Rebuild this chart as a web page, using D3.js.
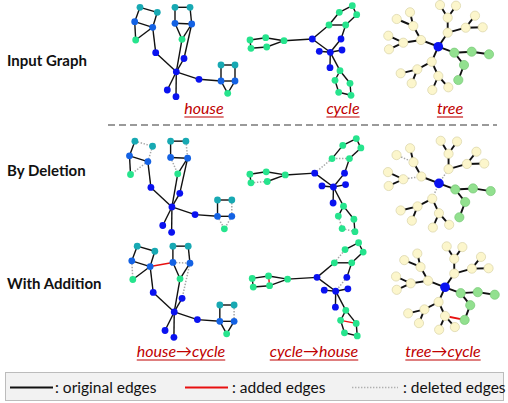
<!DOCTYPE html>
<html><head><meta charset="utf-8">
<script src="https://cdn.jsdelivr.net/npm/d3@7"></script>
<style>
html,body{margin:0;padding:0;background:#fff;}
svg{display:block;font-family:Lato,"Open Sans",sans-serif;}
</style></head><body>
<svg id="chart" width="508" height="403"></svg>
<script>
// ---------- house-motif graph ----------
const houseIds  = ["A","B","C","D","E","F","G","H","I","J","K","L","M","N","O","P","Q","R","S","T","U"];
const houseX    = [10,27.3,4.7,22.7,5.7,25.7,45,60,45,61.7,52,54,46.3,69,37.3,46,91,105,91,105,97.7];
const houseY    = [7.3,12.3,21.7,27.3,40,52.7,7.3,7.3,23.3,24,39.3,58.5,71.8,79.3,90,96.7,65,65,81,81,93.3];
const houseKind = ["teal","teal","blue","blue","green","deep","teal","teal","blue","blue","green","deep","deep","deep","deep","deep","teal","teal","blue","blue","green"];
const houseEdges = [["A","B"],["A","C"],["B","D"],["C","D"],["C","E"],["D","E"],["D","F"],["F","M"],
  ["G","H"],["G","I"],["H","J"],["I","J"],["I","K"],["J","K"],["J","L"],["K","M"],["L","M"],
  ["M","N"],["M","O"],["M","P"],["N","S"],["Q","R"],["Q","S"],["R","T"],["S","T"],["S","U"],["T","U"]];
const houseDeleted  = [["A","B"],["B","D"],["D","E"],["H","J"],["I","K"],["R","T"],["S","U"],["T","U"]];
const houseToCycleDeleted = [["C","E"],["I","J"],["J","L"],["R","T"]];
const houseToCycleAdded   = [["D","I"]];

// ---------- cycle-motif graph ----------
const cycleIds  = ["c1","c2","c3","c4","c5","h","u1","u2","u3","u4","u5","b1","ctr","bL","bR","bD","l1","l2","l3","l4","l5"];
const cycleX    = [10,25.7,44,11,26.7,72.3,89,99.3,112.3,116.7,105.7,101,90.3,79.3,102,90,100,95,98.7,111,110];
const cycleY    = [40,37.7,40.7,48.3,47,39,25,12.3,5.7,14.7,25,39,52.3,51.3,50,67.7,70.7,80.3,92.3,95.3,83.3];
const cycleKind = ["green","green","green","green","green","deep","green","green","green","green","green","deep","deep","deep","deep","deep","green","green","green","green","green"];
const cycleEdges = [["c1","c2"],["c2","c3"],["c3","c5"],["c5","c4"],["c4","c1"],["c3","h"],
  ["h","u1"],["u1","u2"],["u2","u3"],["u3","u4"],["u4","u5"],["u5","u1"],["u5","b1"],["b1","ctr"],["h","ctr"],
  ["ctr","bL"],["ctr","bR"],["ctr","bD"],["ctr","l1"],["l1","l2"],["l2","l3"],["l3","l4"],["l4","l5"],["l5","l1"]];
const cycleDeleted = [["c4","c5"],["h","u1"],["u1","u5"],["l2","l3"],["l3","l4"]];
const cycleToHouseDeleted = [["u1","u2"],["b1","ctr"]];
const cycleToHouseAdded   = [["c2","c5"],["l2","l5"]];

// ---------- tree-motif graph ----------
const treeIds  = ["t0","n1","n2","n3","n4","n5","n6","n7","m1","m2","m3","m4","m5","m6","m7","k1","k2","k3","k4","k5","k6","k7","g1","g2","g3","g4","g5"];
const treeX    = [68.3,51,43.3,40,26.7,33.3,18.3,19,77.7,77.7,70,86,95.7,105,112.7,61.7,47.3,30.7,41.7,68.3,62.3,78.3,84.3,101.7,119,94,88.3];
const treeY    = [46.7,40,26,12.3,19,42.7,35.7,49.3,32.7,17.7,5,5.7,27.7,15.7,27.3,61.7,69.3,73.3,83.3,76,90,87.3,52.7,51.7,54.3,65,80];
const treeKind = ["deep","cream","cream","cream","cream","cream","cream","cream","cream","cream","cream","cream","cream","cream","cream","cream","cream","cream","cream","cream","cream","cream","lime","lime","lime","lime","lime"];
const treeEdges = [["t0","n1"],["n1","n2"],["n2","n3"],["n2","n4"],["n1","n5"],["n5","n6"],["n5","n7"],
  ["t0","m1"],["m1","m2"],["m2","m3"],["m2","m4"],["m1","m5"],["m5","m6"],["m5","m7"],
  ["t0","k1"],["k1","k2"],["k2","k3"],["k2","k4"],["k1","k5"],["k5","k6"],["k5","k7"],
  ["t0","g1"],["g1","g2"],["g2","g3"],["g1","g4"],["g4","g5"]];
const treeDeleted = [["n1","n5"],["n2","n4"],["t0","m1"],["t0","k1"]];
const treeToCycleDeleted = [];
const treeToCycleAdded   = [["k5","g5"]];

// ---------- text ----------
const rowLabels      = ["Input Graph","By Deletion","With Addition"];
const motifLabels    = ["house","cycle","tree"];
const transferLabels = ["house\u2192cycle","cycle\u2192house","tree\u2192cycle"];
const legendLabels   = [": original edges",": added edges",": deleted edges"];

// ---------- styling ----------
const fills   = {teal:"#18a9b3", blue:"#1462e4", deep:"#0a12f0", green:"#26e48d", cream:"#fcf6cc", lime:"#92e08f"};
const strokes = {teal:"none", blue:"none", deep:"none", green:"none", cream:"#d9d3a6", lime:"#79c877"};
const darkRed = "#c00000";

const svg = d3.select("#chart");

function build(ids, xs, ys, kinds) {
  return ids.map((id, i) => ({id, x: xs[i], y: ys[i], kind: kinds[i]}));
}
const graphs = {
  house: {nodes: build(houseIds, houseX, houseY, houseKind), edges: houseEdges, r: 3.4, w: 1.4},
  cycle: {nodes: build(cycleIds, cycleX, cycleY, cycleKind), edges: cycleEdges, r: 3.4, w: 1.4},
  tree:  {nodes: build(treeIds, treeX, treeY, treeKind), edges: treeEdges, r: 4.6, w: 1.9}
};

// placement of each graph in each row: origin and zoom factor
const panels = [
  {graph: "house", row: 0, ox: 130,   oy: 0,     k: 1,    del: [],            add: []},
  {graph: "cycle", row: 0, ox: 240,   oy: 0,     k: 1,    del: [],            add: []},
  {graph: "tree",  row: 0, ox: 370,   oy: 0,     k: 1,    del: [],            add: []},
  {graph: "house", row: 1, ox: 124.7, oy: 133.7, k: 1.02, del: houseDeleted,  add: []},
  {graph: "cycle", row: 1, ox: 239.5, oy: 132.6, k: 1.04, del: cycleDeleted,  add: []},
  {graph: "tree",  row: 1, ox: 369.3, oy: 135.7, k: 1.02, del: treeDeleted,   add: []},
  {graph: "house", row: 2, ox: 127,   oy: 238.7, k: 1.02, del: houseToCycleDeleted, add: houseToCycleAdded},
  {graph: "cycle", row: 2, ox: 241.8, oy: 236.8, k: 1.04, del: cycleToHouseDeleted, add: cycleToHouseAdded},
  {graph: "tree",  row: 2, ox: 378.1, oy: 241.5, k: 0.98, del: treeToCycleDeleted,  add: treeToCycleAdded}
];

const key = (a, b) => a < b ? a + "|" + b : b + "|" + a;

panels.forEach(p => {
  const G = graphs[p.graph];
  const x = d3.scaleLinear().domain([0, 100]).range([p.ox, p.ox + 100 * p.k]);
  const y = d3.scaleLinear().domain([0, 100]).range([p.oy, p.oy + 100 * p.k]);
  const byId = new Map(G.nodes.map(n => [n.id, n]));
  const delSet = new Set(p.del.map(e => key(e[0], e[1])));
  const links = G.edges.map(e => ({s: byId.get(e[0]), t: byId.get(e[1]), type: delSet.has(key(e[0], e[1])) ? "del" : "orig"}))
    .concat(p.add.map(e => ({s: byId.get(e[0]), t: byId.get(e[1]), type: "add"})));
  links.sort((a, b) => (a.type === "del" ? 0 : 1) - (b.type === "del" ? 0 : 1));

  const g = svg.append("g");
  g.selectAll("line").data(links).join("line")
    .attr("x1", d => x(d.s.x)).attr("y1", d => y(d.s.y))
    .attr("x2", d => x(d.t.x)).attr("y2", d => y(d.t.y))
    .attr("stroke", d => d.type === "del" ? "#a6a6a6" : d.type === "add" ? "#e81010" : "#111")
    .attr("stroke-width", d => d.type === "del" ? 1.5 : G.w)
    .attr("stroke-dasharray", d => d.type === "del" ? "1.4,1.6" : null);
  g.selectAll("circle").data(G.nodes).join("circle")
    .attr("cx", d => x(d.x)).attr("cy", d => y(d.y))
    .attr("r", d => d.kind === "deep" && p.graph === "tree" ? 4.8 : G.r)
    .attr("fill", d => fills[d.kind])
    .attr("stroke", d => strokes[d.kind]).attr("stroke-width", 0.7);
});

// ---------- row titles ----------
const rowY = [66, 176, 289];
svg.selectAll("text.row").data(rowLabels).join("text").attr("class", "row")
  .attr("x", 7).attr("y", (d, i) => rowY[i])
  .attr("font-size", 15).attr("font-weight", 700).attr("fill", "#111")
  .text(d => d);

// ---------- motif captions (underlined, italic) ----------
function caption(labels, centers, baseline) {
  labels.forEach((t, i) => {
    const el = svg.append("text").attr("x", centers[i]).attr("y", baseline)
      .attr("text-anchor", "middle").attr("font-size", 16).attr("font-style", "italic")
      .attr("fill", darkRed).text(t);
    const w = el.node().getComputedTextLength();
    svg.append("line").attr("x1", centers[i] - w / 2).attr("x2", centers[i] + w / 2)
      .attr("y1", baseline + 3).attr("y2", baseline + 3)
      .attr("stroke", darkRed).attr("stroke-width", 1.1);
  });
}
caption(motifLabels, [204, 343, 450], 114);
caption(transferLabels, [181, 314, 443], 357);

// ---------- separator ----------
svg.append("line").attr("x1", 108).attr("x2", 497).attr("y1", 125).attr("y2", 125)
  .attr("stroke", "#9a9a9a").attr("stroke-width", 2).attr("stroke-dasharray", "7,4");

// ---------- legend ----------
const lg = svg.append("g");
lg.append("rect").attr("x", 5.5).attr("y", 372.5).attr("width", 498).attr("height", 28)
  .attr("fill", "#f2f2f2").attr("stroke", "#bcbcbc");
const legendLines = [
  {x1: 10, x2: 53, stroke: "#111", dash: null, w: 2, tx: 55},
  {x1: 185, x2: 228, stroke: "#e81010", dash: null, w: 2, tx: 232},
  {x1: 352, x2: 398, stroke: "#b0b0b0", dash: "1.4,1.6", w: 1.6, tx: 403}
];
legendLines.forEach((l, i) => {
  lg.append("line").attr("x1", l.x1).attr("x2", l.x2).attr("y1", 387.5).attr("y2", 387.5)
    .attr("stroke", l.stroke).attr("stroke-width", l.w).attr("stroke-dasharray", l.dash);
  lg.append("text").attr("x", l.tx).attr("y", 393).attr("font-size", 15.5).attr("fill", "#111")
    .text(legendLabels[i]);
});
</script>
</body></html>
